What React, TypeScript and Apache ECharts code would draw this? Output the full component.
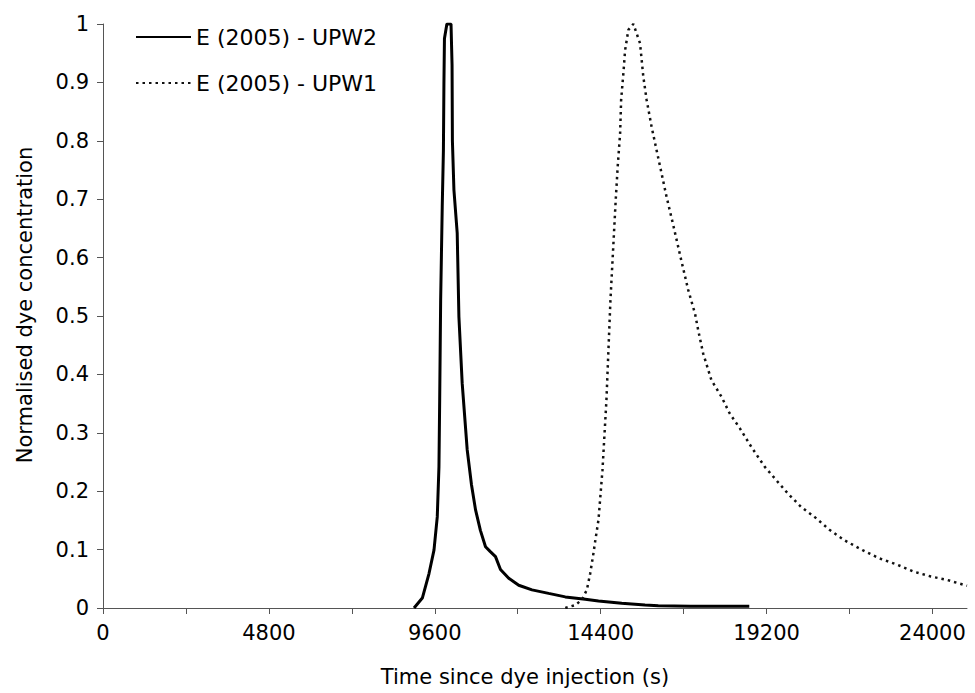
import React, { useEffect, useRef } from "react";
import * as echarts from "echarts";

// Tick values
const xTickValues = [0, 2400, 4800, 7200, 9600, 12000, 14400, 16800, 19200, 21600, 24000];
const xLabelValues = [0, 4800, 9600, 14400, 19200, 24000];

// Series: E (2005) - UPW2 (solid)
const upw2Time = [
  9000, 9240, 9433, 9577, 9672, 9721, 9741, 9770, 9816, 9850, 9865, 9880, 9950, 10070,
  10100, 10110, 10154, 10249, 10298, 10393, 10538, 10660, 10780, 10920, 11068, 11200, 11357,
  11501, 11740, 12029, 12413, 12894, 13376, 13953, 14337, 15009, 15684, 16067, 17000, 18700,
];
const upw2Conc = [
  0.0, 0.017, 0.059, 0.099, 0.156, 0.242, 0.351, 0.527, 0.687, 0.784, 0.9, 0.975, 1.0, 1.0,
  0.93, 0.8, 0.716, 0.642, 0.499, 0.385, 0.271, 0.212, 0.168, 0.133, 0.105, 0.097, 0.088,
  0.066, 0.051, 0.039, 0.031, 0.025, 0.019, 0.015, 0.012, 0.008, 0.005, 0.004, 0.003, 0.003,
];

// Series: E (2005) - UPW1 (dotted)
const upw1Time = [
  13376, 13664, 13855, 14000, 14097, 14192, 14241, 14337, 14452, 14567, 14683, 14836,
  14893, 14963, 14992, 15058, 15107, 15202, 15346, 15539, 15634, 15730, 15874, 16018,
  16163, 16307, 16499, 16730, 16932, 17134, 17221, 17365, 17605, 17893, 18135, 18424,
  18758, 19145, 19480, 19817, 20201, 20587, 21020, 21452, 21980, 22462, 22990, 23472,
  23951, 24432, 25000,
];
const upw1Conc = [
  0.0, 0.005, 0.014, 0.031, 0.059, 0.094, 0.114, 0.151, 0.236, 0.356, 0.527, 0.699,
  0.756, 0.813, 0.87, 0.916, 0.955, 0.99, 1.0, 0.967, 0.91, 0.87, 0.824, 0.784,
  0.744, 0.704, 0.656, 0.596, 0.545, 0.503, 0.476, 0.436, 0.39, 0.362, 0.333, 0.308,
  0.276, 0.242, 0.219, 0.196, 0.173, 0.156, 0.134, 0.116, 0.099, 0.085, 0.074, 0.062,
  0.054, 0.048, 0.038,
];

const FONT = "DejaVu Sans";

export default function App() {
  const ref = useRef<HTMLDivElement>(null);

  useEffect(() => {
    if (!ref.current) return;
    const chart = echarts.init(ref.current, undefined, { renderer: "svg" });
    const axisColor = "#555";
    chart.setOption({
      animation: false,
      backgroundColor: "#ffffff",
      grid: { left: 103, right: 8, top: 24, bottom: 85, containLabel: false },
      legend: {
        orient: "vertical",
        left: 130,
        top: 21,
        itemWidth: 55,
        itemHeight: 14,
        itemGap: 24,
        itemStyle: { opacity: 0 },
        textStyle: { fontFamily: FONT, fontSize: 22, color: "#000" },
        data: ["E (2005) - UPW2", "E (2005) - UPW1"],
      },
      xAxis: {
        type: "value",
        min: 0,
        max: 25000,
        interval: 4800,
        name: "Time since dye injection (s)",
        nameLocation: "middle",
        nameGap: 58,
        nameTextStyle: { fontFamily: FONT, fontSize: 21, color: "#000", padding: [0, 20, 0, 0] },
        splitLine: { show: false },
        axisLine: { show: true, lineStyle: { color: axisColor, width: 1 } },
        axisTick: { show: true, length: 6, customValues: xTickValues, lineStyle: { color: axisColor } },
        axisLabel: {
          customValues: xLabelValues,
          fontFamily: FONT,
          fontSize: 21,
          color: "#000",
          margin: 14,
          formatter: (v: number) => String(v),
        },
      },
      yAxis: {
        type: "value",
        min: 0,
        max: 1,
        interval: 0.1,
        name: "Normalised dye concentration",
        nameLocation: "middle",
        nameGap: 68,
        nameTextStyle: { fontFamily: FONT, fontSize: 21, color: "#000", padding: [0, 0, 0, 22] },
        splitLine: { show: false },
        axisLine: { show: true, lineStyle: { color: axisColor, width: 1 } },
        axisTick: { show: true, length: 6, lineStyle: { color: axisColor } },
        axisLabel: {
          fontFamily: FONT,
          fontSize: 21,
          color: "#000",
          margin: 14,
          formatter: (v: number) => String(Math.round(v * 10) / 10),
        },
      },
      series: [
        {
          name: "E (2005) - UPW2",
          type: "line",
          symbol: "none",
          showSymbol: false,
          data: upw2Time.map((t, i) => [t, upw2Conc[i]]),
          lineStyle: { color: "#000", width: 3, type: "solid" },
          itemStyle: { color: "#000" },
        },
        {
          name: "E (2005) - UPW1",
          type: "line",
          symbol: "none",
          showSymbol: false,
          data: upw1Time.map((t, i) => [t, upw1Conc[i]]),
          lineStyle: { color: "#111", width: 2.5, type: [2.5, 4] },
          itemStyle: { color: "#111" },
        },
      ],
    });
    return () => chart.dispose();
  }, []);

  return (
    <div
      ref={ref}
      style={{ position: "fixed", left: 0, top: 0, width: 975, height: 693, background: "#fff" }}
    />
  );
}
